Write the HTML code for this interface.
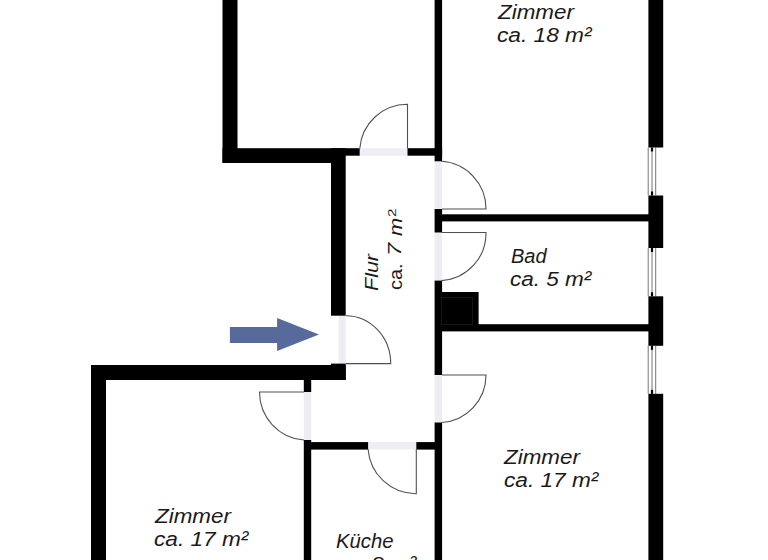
<!DOCTYPE html>
<html><head><meta charset="utf-8">
<style>
html,body{margin:0;padding:0;background:#fff;}
body{width:768px;height:560px;overflow:hidden;position:relative;}
svg{position:absolute;left:0;top:0;}
.t{position:absolute;font-family:"Liberation Sans",sans-serif;font-style:italic;color:#1a1a1a;font-size:20.5px;line-height:30px;white-space:nowrap;transform-origin:0 0;}
</style></head><body>
<svg width="768" height="560" viewBox="0 0 768 560">
<g fill="#ededf3">
<rect x="359.7" y="148.3" width="47.8" height="7.4"/>
<rect x="434.6" y="161.3" width="7.5" height="47.7"/>
<rect x="434.6" y="232.5" width="7.5" height="48.1"/>
<rect x="434.6" y="375" width="7.5" height="47.5"/>
<rect x="338.6" y="315.7" width="7.1" height="47.9"/>
<rect x="303.8" y="392" width="7.4" height="48"/>
<rect x="368.1" y="442.1" width="48.2" height="7.4"/>
</g>
<g fill="#000">
<rect x="222.5" y="0" width="15" height="163"/>
<rect x="222.5" y="148.2" width="108.5" height="14.8"/>
<rect x="331" y="148.2" width="28.7" height="7.5"/>
<rect x="331" y="148.2" width="14.7" height="167.5"/>
<rect x="407.5" y="148.2" width="34.6" height="7.5"/>
<rect x="434.6" y="0" width="7.5" height="161.3"/>
<rect x="434.6" y="209" width="7.5" height="23.5"/>
<rect x="441" y="214.3" width="208" height="7.1"/>
<rect x="434.6" y="280.6" width="7.5" height="94.4"/>
<rect x="440" y="292" width="38.6" height="35"/>
<rect x="441" y="324.2" width="208" height="7.2"/>
<rect x="434.6" y="422.5" width="7.5" height="137.5"/>
<rect x="648.4" y="0" width="14.8" height="147.5"/>
<rect x="648.4" y="195.5" width="14.8" height="52.5"/>
<rect x="648.4" y="296.3" width="14.8" height="49.5"/>
<rect x="648.4" y="393.8" width="14.8" height="166.2"/>
<rect x="91" y="365" width="254.7" height="15"/>
<rect x="331" y="363.6" width="14.7" height="16.4"/>
<rect x="91" y="365" width="15" height="195"/>
<rect x="303.8" y="379" width="7.4" height="13"/>
<rect x="303.8" y="440" width="7.4" height="120"/>
<rect x="311" y="442.1" width="57.1" height="7.5"/>
<rect x="416.3" y="442.1" width="19" height="7.5"/>
</g>
<g fill="none" stroke="#505050" stroke-width="1.1">
<!-- top door -->
<path d="M407.5 148.5 V104.3 A47.7 47.7 0 0 0 359.8 148.5"/>
<!-- door A -->
<path d="M442 209 H486 A47.5 47.5 0 0 0 441.5 161.3"/>
<!-- door B -->
<path d="M442 232.5 H486 A47.5 47.5 0 0 1 441.5 280.6"/>
<!-- door C -->
<path d="M442 375 H486 A47.5 47.5 0 0 1 441.5 422.5"/>
<!-- entrance -->
<path d="M345.7 363.6 H390.7 A45 48 0 0 0 345.7 315.7"/>
<!-- lower left -->
<path d="M304 392 H259.5 A48 48 0 0 0 304 440"/>
<!-- kueche -->
<path d="M416.3 449.2 V493.7 A48 48 0 0 1 368.1 449.2"/>
</g>
<rect x="441.5" y="297.5" width="31" height="27" fill="none" stroke="#1c1c1c" stroke-width="0.8"/>
<!-- windows -->
<g fill="none" stroke="#3a3a3a" stroke-width="0.7">
<path d="M648.2 147.5 V195.5 M652 147.5 V195.5 M655.7 147.5 V195.5"/>
<path d="M648.2 248 V296.3 M652 248 V296.3 M655.7 248 V296.3"/>
<path d="M648.2 345.8 V393.8 M652 345.8 V393.8 M655.7 345.8 V393.8"/>
</g>
<g fill="#000">
<rect x="650.9" y="147.5" width="2.2" height="4"/><rect x="650.9" y="191.5" width="2.2" height="4"/>
<rect x="650.9" y="248" width="2.2" height="4"/><rect x="650.9" y="292.3" width="2.2" height="4"/>
<rect x="650.9" y="345.8" width="2.2" height="4"/><rect x="650.9" y="389.8" width="2.2" height="4"/>
</g>
<!-- arrow -->
<path d="M229.9 327 H277.1 V317.9 L319 334.4 L277.1 351.1 V343 H229.9 Z" fill="#576a9b"/>
</svg>
<div class="t" style="left:497.6px;top:-3px;transform:scaleX(1.093);">Zimmer</div>
<div class="t" style="left:497.0px;top:20.1px;transform:scaleX(1.107);">ca. 18 m²</div>
<div class="t" style="left:510.8px;top:240.8px;transform:scaleX(0.975);">Bad</div>
<div class="t" style="left:509.8px;top:264.4px;transform:scaleX(1.099);">ca. 5 m²</div>
<div class="t" style="left:504.3px;top:441.9px;transform:scaleX(1.093);">Zimmer</div>
<div class="t" style="left:503.5px;top:464.6px;transform:scaleX(1.104);">ca. 17 m²</div>
<div class="t" style="left:155.2px;top:500.8px;transform:scaleX(1.093);">Zimmer</div>
<div class="t" style="left:154.0px;top:524.2px;transform:scaleX(1.104);">ca. 17 m²</div>
<div class="t" style="left:335.8px;top:526.3px;transform:scaleX(0.99);">Küche</div>
<div class="t" style="left:335.0px;top:549.3px;transform:scaleX(1.099);">ca. 8 m²</div>
<div class="t" style="font-size:19px;left:357.3px;top:290.5px;transform:rotate(-90deg) scaleX(1.131);">Flur</div>
<div class="t" style="font-size:19px;font-style:normal;left:380.5px;top:290.1px;transform:rotate(-90deg) scaleX(1.05);">ca.</div>
<div class="t" style="font-size:19px;left:380.3px;top:256px;transform:rotate(-90deg) scaleX(1.25);">7</div>
<div class="t" style="font-size:19px;left:380.5px;top:235.9px;transform:rotate(-90deg) scaleX(1.147);">m</div>
<div class="t" style="font-size:11px;font-style:normal;left:376.8px;top:217.1px;transform:rotate(-90deg) scaleX(1.38);">2</div>
</body></html>
